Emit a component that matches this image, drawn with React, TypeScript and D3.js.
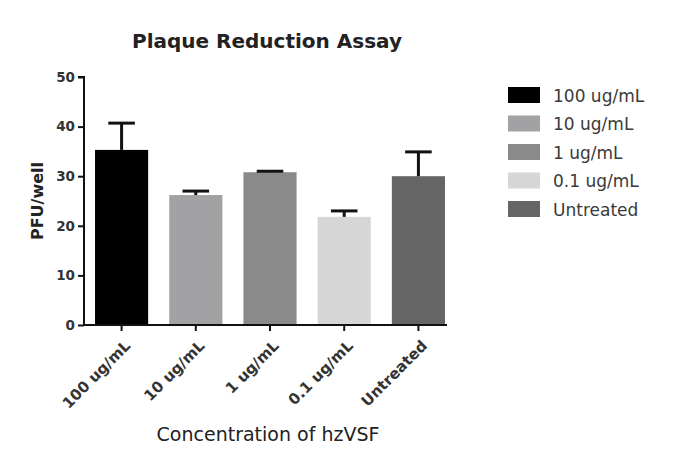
import React, { useEffect, useRef } from 'react';
import * as d3 from 'd3';

const categories = ['100 ug/mL', '10 ug/mL', '1 ug/mL', '0.1 ug/mL', 'Untreated'];
const means = [35.3, 26.2, 30.8, 21.8, 30.0];
const errors = [5.4, 0.8, 0.2, 1.2, 4.9];
const colors = ['#000000', '#a2a2a5', '#8a8a8a', '#d6d6d6', '#656565'];
const yTicks = [0, 10, 20, 30, 40, 50];

export default function App() {
  const svgRef = useRef<SVGSVGElement>(null);

  useEffect(() => {
    if (!svgRef.current) return;
    const svg = d3.select(svgRef.current);
    svg.selectAll('*').remove();

    const font = '"DejaVu Sans", Verdana, sans-serif';
    const left = 84;
    const right = 447;
    const x = d3.scaleBand().domain(categories).range([85, 455]).paddingInner(0.284).paddingOuter(0.135);
    const y = d3.scaleLinear().domain([0, 50]).range([325, 77]);

    // title
    svg.append('text')
      .attr('x', 267).attr('y', 48)
      .attr('text-anchor', 'middle')
      .style('font-family', font).style('font-size', '20px').style('font-weight', 'bold')
      .attr('fill', '#222')
      .text('Plaque Reduction Assay');

    // bars
    const g = svg.append('g');
    g.selectAll('rect.bar')
      .data(categories)
      .enter()
      .append('rect')
      .attr('class', 'bar')
      .attr('x', d => x(d)!)
      .attr('width', x.bandwidth())
      .attr('y', (_, i) => y(means[i]))
      .attr('height', (_, i) => y(0) - y(means[i]))
      .attr('fill', (_, i) => colors[i]);

    // error bars (upper only)
    const capW = x.bandwidth() * 0.5;
    categories.forEach((c, i) => {
      const cx = x(c)! + x.bandwidth() / 2;
      g.append('line')
        .attr('x1', cx).attr('x2', cx)
        .attr('y1', y(means[i])).attr('y2', y(means[i] + errors[i]))
        .attr('stroke', '#111').attr('stroke-width', 3);
      g.append('line')
        .attr('x1', cx - capW / 2).attr('x2', cx + capW / 2)
        .attr('y1', y(means[i] + errors[i])).attr('y2', y(means[i] + errors[i]))
        .attr('stroke', '#111').attr('stroke-width', 3);
    });

    // y axis
    const yAxis = svg.append('g')
      .attr('transform', `translate(${left},0)`)
      .call(d3.axisLeft(y).tickValues(yTicks).tickSize(6).tickFormat(d3.format('d')));
    yAxis.select('.domain').attr('stroke', '#111').attr('stroke-width', 2).attr('d', `M-6,${y(50)}H0V${y(0)}`);
    yAxis.selectAll('.tick line').attr('stroke', '#111').attr('stroke-width', 2);
    yAxis.selectAll('.tick text')
      .attr('fill', '#333').attr('x', -9)
      .style('font-family', font).style('font-size', '13.5px').style('font-weight', 'bold');

    // x axis
    const xAxis = svg.append('g')
      .attr('transform', `translate(0,${y(0)})`)
      .call(d3.axisBottom(x).tickSize(6).tickSizeOuter(0));
    xAxis.select('.domain').attr('stroke', '#111').attr('stroke-width', 2).attr('d', `M${left},0H${right}`);
    xAxis.selectAll('.tick line').attr('stroke', '#111').attr('stroke-width', 2);
    xAxis.selectAll('.tick text')
      .attr('fill', '#333')
      .attr('text-anchor', 'end')
      .attr('transform', 'translate(6,18) rotate(-45)')
      .attr('dy', '0.35em')
      .attr('y', 0)
      .style('font-family', font).style('font-size', '15px').style('font-weight', 'bold');

    // axis titles
    svg.append('text')
      .attr('transform', `translate(43,${y(25)}) rotate(-90)`)
      .attr('text-anchor', 'middle')
      .style('font-family', font).style('font-size', '16px').style('font-weight', 'bold')
      .attr('fill', '#222')
      .text('PFU/well');

    svg.append('text')
      .attr('x', 268).attr('y', 441)
      .attr('text-anchor', 'middle')
      .style('font-family', font).style('font-size', '19px')
      .attr('fill', '#222')
      .text('Concentration of hzVSF');

    // legend
    const legend = svg.append('g').attr('transform', 'translate(508,87)');
    const items = legend.selectAll('g')
      .data(categories)
      .enter()
      .append('g')
      .attr('transform', (_, i) => `translate(0,${i * 28.5})`);
    items.append('rect')
      .attr('width', 32).attr('height', 16)
      .attr('fill', (_, i) => colors[i]);
    items.append('text')
      .attr('x', 45).attr('y', 14.5)
      .style('font-family', font).style('font-size', '17px')
      .attr('fill', '#3a3a3a')
      .text(d => d);
  }, []);

  return (
    <svg ref={svgRef} width={681} height={457} style={{ position: 'absolute', left: 0, top: 0, background: '#fff' }} />
  );
}
